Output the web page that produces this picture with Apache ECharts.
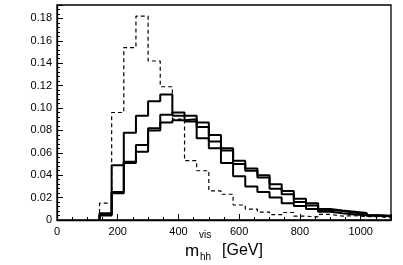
<!DOCTYPE html>
<html><head><meta charset="utf-8">
<script src="https://cdn.jsdelivr.net/npm/echarts@6/dist/echarts.min.js"></script>
<style>html,body{margin:0;padding:0;background:#fff}#c{width:403px;height:265px}</style>
</head><body><div id="c"></div>
<script>
// bin edges (GeV)
var binEdges = [140,180,220,260,300,340,380,420,460,500,540,580,620,660,700,740,780,820,860,900,940,980,1020,1060,1100];
// dashed histogram
var dashedVals = [0.015,0.096,0.154,0.182,0.142,0.119,0.090,0.053,0.044,0.026,0.023,0.0134,0.0098,0.007,0.0048,0.0067,0.0034,0.0028,0.0050,0.0035,0.0038,0.0030,0.0030,0.0018];
// solid histogram A (early peak)
var solidA = [0.006,0.049,0.078,0.093,0.106,0.112,0.093,0.088,0.073,0.064,0.051,0.039,0.030,0.025,0.020,0.015,0.0125,0.0098,0.0074,0.0060,0.0050,0.0042,0.0040,0.0035];
// solid histogram B
var solidB = [0.004,0.025,0.052,0.067,0.082,0.094,0.096,0.093,0.087,0.076,0.064,0.053,0.046,0.040,0.032,0.026,0.019,0.015,0.0098,0.0085,0.0074,0.0062,0.0042,0.0037];
// solid histogram C
var solidC = [0.005,0.024,0.051,0.061,0.080,0.087,0.089,0.090,0.083,0.070,0.062,0.050,0.044,0.038,0.028,0.023,0.016,0.013,0.009,0.008,0.0065,0.0058,0.0038,0.0033];
var xTicks = [0,200,400,600,800,1000];
var yTicks = [0,0.02,0.04,0.06,0.08,0.10,0.12,0.14,0.16,0.18];

function hist(vals){
  var d = [[binEdges[0],0]];
  for (var i=0;i<vals.length;i++) d.push([binEdges[i],vals[i]]);
  d.push([binEdges[binEdges.length-1],vals[vals.length-1]]);
  return d;
}
var font = 'Liberation Sans, Arial, Helvetica, sans-serif';
var chart = echarts.init(document.getElementById('c'), null, {renderer:'canvas'});
function lineSeries(vals, type, w){
  return {type:'line', step:'end', data:hist(vals), symbol:'none', silent:true,
    lineStyle:{color:'#000', width:w, type:type}, z:type==='solid'?3:2};
}
chart.setOption({
  animation:false,
  grid:{left:57,right:12,top:5,bottom:45,show:true,borderColor:'#000',borderWidth:1.3,backgroundColor:'transparent'},
  xAxis:{type:'value',min:0,max:1100,interval:200,
    axisLine:{lineStyle:{color:'#000',width:1.3}},
    axisTick:{inside:true,length:6,lineStyle:{color:'#000'}},
    minorTick:{show:true,splitNumber:4,length:3,lineStyle:{color:'#000'}},
    splitLine:{show:false},
    axisLabel:{color:'#000',fontSize:11,fontFamily:font,margin:6,showMaxLabel:false,
      formatter:function(v){return xTicks.indexOf(v)>=0?String(v):'';}}
  },
  yAxis:{type:'value',min:0,max:0.192,interval:0.02,
    axisLine:{lineStyle:{color:'#000',width:1.3}},
    axisTick:{inside:true,length:6,lineStyle:{color:'#000'}},
    minorTick:{show:true,splitNumber:5,length:3,lineStyle:{color:'#000'}},
    splitLine:{show:false},
    axisLabel:{color:'#000',fontSize:11,fontFamily:font,margin:5,showMaxLabel:false,
      formatter:function(v){
        for (var i=0;i<yTicks.length;i++){ if (Math.abs(v-yTicks[i])<1e-9) return yTicks[i]===0?'0':yTicks[i].toFixed(2);} return '';}}
  },
  graphic:[
    {type:'text',left:185,top:243,style:{text:'m',font:'17px '+font,fill:'#000'}},
    {type:'text',left:199,top:230,style:{text:'vis',font:'10px '+font,fill:'#000'}},
    {type:'text',left:200,top:252,style:{text:'hh',font:'10px '+font,fill:'#000'}},
    {type:'text',left:222,top:243,style:{text:'[GeV]',font:'16px '+font,fill:'#000'}}
  ],
  series:[
    lineSeries(dashedVals,[4,3],1.2),
    lineSeries(solidA,'solid',2),
    lineSeries(solidB,'solid',2),
    lineSeries(solidC,'solid',2)
  ]
});
</script></body></html>
